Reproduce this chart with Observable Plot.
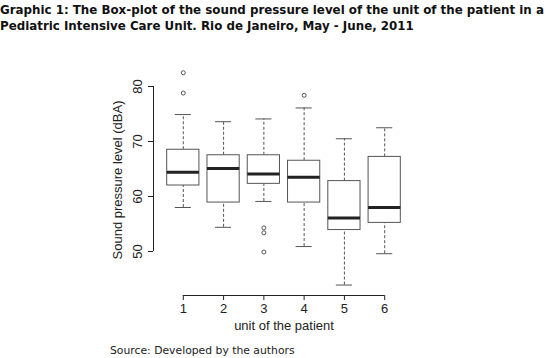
<!DOCTYPE html>
<html>
<head>
<meta charset="utf-8">
<script src="https://cdn.jsdelivr.net/npm/d3@7"></script>
<script src="https://cdn.jsdelivr.net/npm/@observablehq/plot@0.6"></script>
<style>
  html, body { margin: 0; padding: 0; background: #fff; width: 550px; height: 358px; overflow: hidden; }
  #title { font-family: "DejaVu Sans", Verdana, sans-serif; font-weight: bold; font-size: 11.85px; line-height: 16px; color: #111; padding: 2px 0 0 0; height: 34px; white-space: nowrap; }
  #caption { font-family: "DejaVu Sans", Verdana, sans-serif; font-size: 10.8px; color: #222; padding-left: 110px; margin-top: 8px; }
  #chart svg { display: block; }
</style>
</head>
<body>
<div id="title">Graphic 1: The Box-plot of the sound pressure level of the unit of the patient in a<br>Pediatric Intensive Care Unit. Rio de Janeiro, May - June, 2011</div>
<div id="chart"></div>
<div id="caption">Source: Developed by the authors</div>
<script>
// Data
const units = [1, 2, 3, 4, 5, 6];
const lowerWhisker = [58.0, 54.4, 59.1, 50.9, 43.9, 49.6];
const q1 = [62.0, 58.9, 62.3, 58.9, 53.9, 55.2];
const median = [64.4, 65.1, 64.1, 63.5, 56.1, 58.0];
const q3 = [68.5, 67.5, 67.5, 66.5, 62.8, 67.2];
const upperWhisker = [74.9, 73.6, 74.1, 76.1, 70.5, 72.5];
const outlierUnits = [1, 1, 3, 3, 3, 4];
const outlierValues = [82.5, 78.8, 54.3, 53.4, 49.9, 78.4];
const yTicks = [50, 60, 70, 80];
const xLabel = "unit of the patient";
const yLabel = "Sound pressure level (dBA)";

const boxes = units.map((u, i) => ({
  unit: u, lo: lowerWhisker[i], q1: q1[i], med: median[i], q3: q3[i], hi: upperWhisker[i]
}));
const outliers = outlierUnits.map((u, i) => ({unit: u, value: outlierValues[i]}));

const xDomain = [0.26, 6.74];
const yDomain = [42, 84];
const lineColor = "#555";
const textColor = "#222";

const chart = Plot.plot({
  width: 550,
  height: 300,
  marginLeft: 153,
  marginRight: 136,
  marginTop: 28,
  marginBottom: 41,
  style: {fontFamily: "'Liberation Sans', Arial, sans-serif", fontSize: "13px", background: "white", color: textColor},
  x: {domain: xDomain, axis: null},
  y: {domain: yDomain, axis: null},
  marks: [
    // axis lines (R style, spanning first to last tick)
    Plot.ruleY([yDomain[0]], {x1: units[0], x2: units[units.length - 1], stroke: textColor, strokeWidth: 1}),
    Plot.ruleX([xDomain[0]], {y1: yTicks[0], y2: yTicks[yTicks.length - 1], stroke: textColor, strokeWidth: 1}),
    Plot.axisX({ticks: units, tickSize: 5, tickPadding: 3, stroke: textColor, fill: textColor, fontSize: 13,
      label: null, tickFormat: d => String(d)}),
    Plot.axisY({ticks: yTicks, tickSize: 5, stroke: textColor, text: null, label: null}),
    Plot.text(yTicks, {y: d => d, text: d => String(d), frameAnchor: "left", dx: -16, rotate: -90,
      textAnchor: "middle", lineAnchor: "middle", fontSize: 13, fill: textColor}),
    // axis titles
    Plot.text([xLabel], {text: d => d, frameAnchor: "bottom", dy: 30, textAnchor: "middle", lineAnchor: "middle", fontSize: 13, fill: textColor}),
    Plot.text([yLabel], {text: d => d, frameAnchor: "left", dx: -36, rotate: -90, textAnchor: "middle", lineAnchor: "middle", fontSize: 13, fill: textColor}),
    // whiskers
    Plot.ruleX(boxes, {x: "unit", y1: "q3", y2: "hi", stroke: lineColor, strokeDasharray: "3,2"}),
    Plot.ruleX(boxes, {x: "unit", y1: "lo", y2: "q1", stroke: lineColor, strokeDasharray: "3,2"}),
    // caps
    Plot.ruleY(boxes, {y: "hi", x1: d => d.unit - 0.2, x2: d => d.unit + 0.2, stroke: lineColor}),
    Plot.ruleY(boxes, {y: "lo", x1: d => d.unit - 0.2, x2: d => d.unit + 0.2, stroke: lineColor}),
    // boxes
    Plot.rect(boxes, {x1: d => d.unit - 0.4, x2: d => d.unit + 0.4, y1: "q1", y2: "q3", fill: "white", stroke: lineColor, strokeWidth: 1}),
    // medians
    Plot.ruleY(boxes, {y: "med", x1: d => d.unit - 0.4, x2: d => d.unit + 0.4, stroke: "#222", strokeWidth: 3}),
    // outliers
    Plot.dot(outliers, {x: "unit", y: "value", r: 2, stroke: lineColor, fill: "none", strokeWidth: 1})
  ]
});
document.getElementById("chart").appendChild(chart);
</script>
</body>
</html>
